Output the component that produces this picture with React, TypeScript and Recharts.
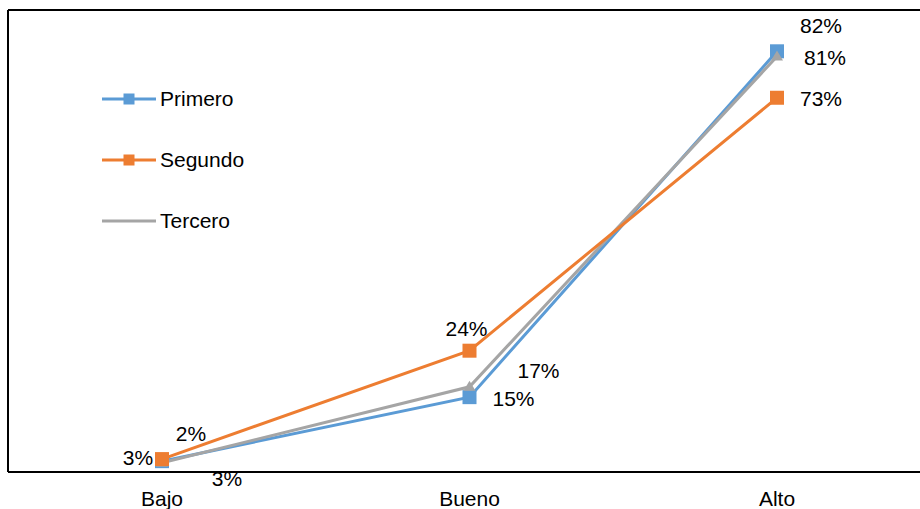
import React from "react";
import { LineChart, Line, XAxis, YAxis, LabelList, Legend } from "recharts";

const categories = ["Bajo", "Bueno", "Alto"];
const primero = [2.6, 15, 82];
const segundo = [3, 24, 73];
const tercero = [2.3, 17, 81];

const data = categories.map((c, i) => ({
  cat: c,
  Primero: primero[i],
  Segundo: segundo[i],
  Tercero: tercero[i],
}));

const FONT = "'Liberation Sans', Arial, sans-serif";
const COLORS = { Primero: "#5B9BD5", Segundo: "#ED7D31", Tercero: "#A5A5A5" };

const labelOffsets: Record<string, [number, number][]> = {
  Primero: [[65, 17], [44, 1.5], [44, -26]],
  Segundo: [[-24, -2], [-3, -22], [44, 1]],
  Tercero: [[29, -29], [69, -16], [48, 1]],
};

const makeLabel = (name: string) => (props: any) => {
  const { x, y, value, index } = props;
  const [dx, dy] = labelOffsets[name][index] || [0, 0];
  return (
    <text
      key={`${name}-l-${index}`}
      x={x + dx}
      y={y + dy}
      textAnchor="middle"
      dominantBaseline="central"
      fontSize={21}
      fontFamily={FONT}
      fill="#000"
    >
      {`${Math.round(Number(value))}%`}
    </text>
  );
};

const squareDot = (color: string, size: number) => (p: any) => {
  const { cx, cy, index } = p;
  return (
    <rect
      key={`sq-${color}-${index}`}
      x={cx - size / 2}
      y={cy - size / 2}
      width={size}
      height={size}
      fill={color}
    />
  );
};

const triDot = (color: string) => (p: any) => {
  const { cx, cy, index } = p;
  return (
    <polygon
      key={`tr-${index}`}
      points={`${cx - 6},${cy + 4} ${cx + 6},${cy + 4} ${cx},${cy - 6}`}
      fill={color}
    />
  );
};

const renderLegend = () => {
  const items = [
    { name: "Primero", color: COLORS.Primero, marker: true },
    { name: "Segundo", color: COLORS.Segundo, marker: true },
    { name: "Tercero", color: COLORS.Tercero, marker: false },
  ];
  return (
    <div style={{ fontFamily: FONT, fontSize: 21, color: "#000" }}>
      {items.map((it) => (
        <div key={it.name} style={{ display: "flex", alignItems: "center", height: 61 }}>
          <svg width={56} height={14} style={{ display: "block" }}>
            <line x1={1} y1={7} x2={55} y2={7} stroke={it.color} strokeWidth={3} />
            {it.marker && <rect x={22.5} y={1.5} width={11} height={11} fill={it.color} />}
          </svg>
          <span style={{ marginLeft: 3, lineHeight: "21px" }}>{it.name}</span>
        </div>
      ))}
    </div>
  );
};

export default function App() {
  return (
    <div
      style={{
        position: "absolute",
        left: 0,
        top: 0,
        width: 920,
        height: 509,
        overflow: "hidden",
        background: "#fff",
      }}
    >
      <LineChart
        width={940}
        height={509}
        data={data}
        margin={{ top: 9, left: 7, right: 9, bottom: 0 }}
        style={{ fontFamily: FONT }}
      >
        <XAxis
          dataKey="cat"
          height={37}
          padding={{ left: 154, right: 154 }}
          tickLine={false}
          tickSize={0}
          tickMargin={19}
          axisLine={{ stroke: "#000", strokeWidth: 2 }}
          tick={{ fontSize: 21, fill: "#000", fontFamily: FONT }}
        />
        <XAxis
          xAxisId="top"
          orientation="top"
          dataKey="cat"
          height={1}
          tick={false}
          tickLine={false}
          axisLine={{ stroke: "#000", strokeWidth: 2 }}
        />
        <YAxis
          domain={[0.5, 90]}
          width={1}
          tick={false}
          tickLine={false}
          axisLine={{ stroke: "#000", strokeWidth: 2 }}
        />
        <Legend
          content={renderLegend}
          layout="vertical"
          verticalAlign="middle"
          align="center"
          wrapperStyle={{ position: "absolute", left: 101, top: 68, width: 200 }}
        />
        <Line
          dataKey="Primero"
          stroke={COLORS.Primero}
          strokeWidth={3}
          dot={squareDot(COLORS.Primero, 14)}
          activeDot={false}
          isAnimationActive={false}
        >
          <LabelList dataKey="Primero" content={makeLabel("Primero")} />
        </Line>
        <Line
          dataKey="Tercero"
          stroke={COLORS.Tercero}
          strokeWidth={3}
          dot={triDot(COLORS.Tercero)}
          activeDot={false}
          isAnimationActive={false}
        >
          <LabelList dataKey="Tercero" content={makeLabel("Tercero")} />
        </Line>
        <Line
          dataKey="Segundo"
          stroke={COLORS.Segundo}
          strokeWidth={3}
          dot={squareDot(COLORS.Segundo, 14)}
          activeDot={false}
          isAnimationActive={false}
        >
          <LabelList dataKey="Segundo" content={makeLabel("Segundo")} />
        </Line>
      </LineChart>
    </div>
  );
}
